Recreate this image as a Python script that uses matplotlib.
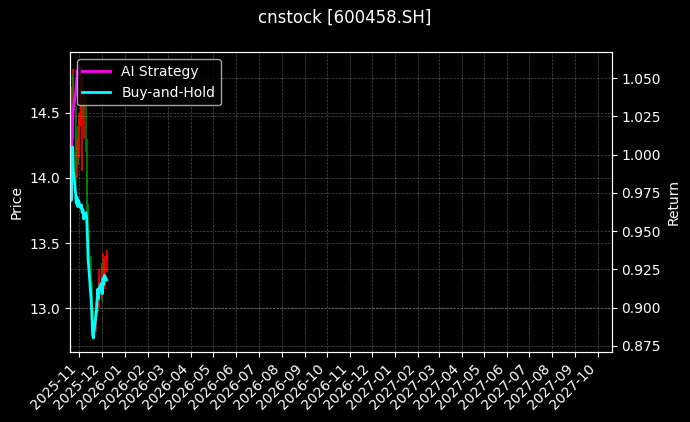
import numpy as np
import pandas as pd
import matplotlib
matplotlib.use("Agg")
import matplotlib.pyplot as plt
import matplotlib.dates as mdates

# trading days shown in the chart
dates = pd.to_datetime([
    "2025-10-20", "2025-10-21", "2025-10-22", "2025-10-23", "2025-10-24",
    "2025-10-27", "2025-10-28", "2025-10-29", "2025-10-30", "2025-10-31",
    "2025-11-03", "2025-11-04", "2025-11-05", "2025-11-06", "2025-11-07",
    "2025-11-10", "2025-11-11", "2025-11-12", "2025-11-13", "2025-11-14",
    "2025-11-17", "2025-11-18", "2025-11-19", "2025-11-20", "2025-11-21",
    "2025-11-24", "2025-11-25", "2025-11-26", "2025-11-27", "2025-11-28",
    "2025-12-01", "2025-12-02", "2025-12-03", "2025-12-04", "2025-12-05",
    "2025-12-08",
])

# OHLC (approximate)
opens = [14.20, 14.40, 14.25, 14.60, 14.75, 14.40, 14.15, 14.05, 14.25, 14.20,
         14.45, 14.80, 14.55, 14.70, 14.50, 14.60, 14.25, 14.00, 13.75, 13.50,
         13.35, 13.15, 12.95, 12.82, 12.90, 12.85, 13.00, 13.05, 13.02, 13.15,
         13.25, 13.10, 13.30, 13.35, 13.22, 13.36]
highs = [14.45, 14.60, 14.70, 14.84, 14.80, 14.55, 14.35, 14.30, 14.40, 14.50,
         14.86, 14.85, 14.80, 14.75, 14.65, 14.62, 14.30, 14.05, 13.80, 13.60,
         13.40, 13.20, 13.00, 12.95, 12.98, 13.05, 13.10, 13.15, 13.20, 13.30,
         13.35, 13.32, 13.42, 13.38, 13.40, 13.45]
lows = [14.10, 14.15, 14.20, 14.45, 14.30, 14.05, 13.95, 14.00, 14.10, 14.15,
        14.40, 14.50, 14.05, 14.45, 14.30, 14.20, 13.95, 13.70, 13.45, 13.30,
        13.10, 12.90, 12.77, 12.78, 12.80, 12.82, 12.95, 12.98, 13.00, 13.10,
        13.05, 13.08, 13.20, 13.18, 13.15, 13.28]
closes = [14.40, 14.25, 14.60, 14.75, 14.40, 14.15, 14.05, 14.25, 14.20, 14.45,
          14.80, 14.55, 14.70, 14.50, 14.60, 14.25, 14.00, 13.75, 13.50, 13.35,
          13.15, 12.95, 12.82, 12.90, 12.85, 13.00, 13.05, 13.02, 13.15, 13.25,
          13.10, 13.30, 13.35, 13.22, 13.36, 13.40]

# cumulative returns
ai_return = [1.000, 1.010, 1.003, 1.025, 1.030, 1.040, 1.045, 1.055, 1.050, 1.058,
             1.055, 1.055, 1.055, 1.055, 1.055, 1.055, 1.055, 1.055, 1.055, 1.055,
             1.055, 1.055, 1.055, 1.055, 1.055, 1.055, 1.055, 1.055, 1.055, 1.055,
             1.055, 1.055, 1.055, 1.055, 1.055, 1.055]
bh_return = [1.000, 0.970, 0.985, 1.005, 0.990, 0.975, 0.968, 0.972, 0.966, 0.970,
             0.965, 0.967, 0.962, 0.964, 0.958, 0.962, 0.958, 0.945, 0.931, 0.925,
             0.905, 0.895, 0.882, 0.880, 0.885, 0.897, 0.905, 0.912, 0.906, 0.913,
             0.916, 0.909, 0.919, 0.915, 0.921, 0.918]

plt.style.use("dark_background")
fig = plt.figure(figsize=(6.9, 4.22), dpi=100)
ax1 = fig.add_axes([0.1014, 0.1666, 0.785, 0.7094])
ax2 = ax1.twinx()

# candles: red up, green down
for d, o, h, l, c in zip(dates, opens, highs, lows, closes):
    col = "red" if c >= o else "green"
    ax1.vlines(d, l, h, color=col, linewidth=1.2)
    ax1.bar(d, abs(c - o), bottom=min(o, c), width=0.8, color=col)

ax2.plot(dates, ai_return, color="magenta", linewidth=2, label="AI Strategy")
ax2.plot(dates, bh_return, color="cyan", linewidth=2, label="Buy-and-Hold")

ax1.set_xlim(pd.Timestamp("2025-10-19 10:00"), pd.Timestamp("2027-10-20"))
ax1.xaxis.set_major_locator(mdates.MonthLocator())
ax1.xaxis.set_major_formatter(mdates.DateFormatter("%Y-%m"))
plt.setp(ax1.get_xticklabels(), rotation=45, ha="right")

ax1.set_ylabel("Price")
ax2.set_ylabel("Return")
ax1.grid(True, linestyle="--", linewidth=0.5, alpha=0.3)
ax2.grid(True, linestyle="--", linewidth=0.5, alpha=0.3)

ax2.legend(loc="upper left")
fig.suptitle("cnstock [600458.SH]", fontsize=12)

fig.savefig("out.png", dpi=100)
